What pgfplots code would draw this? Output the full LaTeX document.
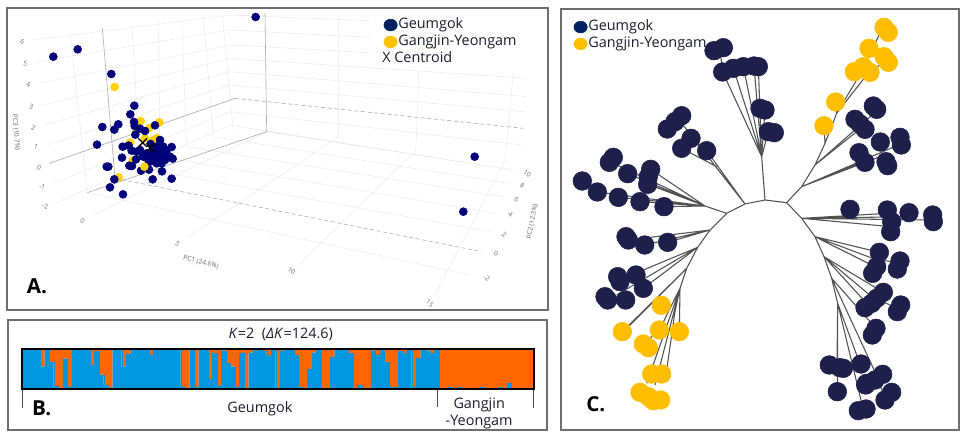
\documentclass[border=0pt]{standalone}
\usepackage{fontspec}
\setmainfont{Open Sans}
\usepackage{pgfplots}
\usepackage{pgfplotstable}
\pgfplotsset{compat=1.18}

\definecolor{framegray}{HTML}{6E6E6E}
\definecolor{gridlight}{HTML}{EAEAEA}
\definecolor{gridmid}{HTML}{ABABAB}
\definecolor{ticktext}{HTML}{6A6A6A}
\definecolor{ptnavy}{HTML}{00007A}
\definecolor{ptyellow}{HTML}{FFD200}
\definecolor{treenavy}{HTML}{1E1F4A}
\definecolor{treeyellow}{HTML}{FFBF00}
\definecolor{legnavy}{HTML}{002060}
\definecolor{legyellow}{HTML}{FFC000}
\definecolor{barblue}{HTML}{0096E0}
\definecolor{barorange}{HTML}{FF6600}
\definecolor{inktext}{HTML}{1C1C2C}

\newcommand{\legfont}{\fontsize{10.8}{12}\selectfont}

\tikzset{
  tl/.style={font=\fontsize{5}{6}\selectfont, text=ticktext, inner sep=0pt},
  pnl/.style={font=\fontsize{15.5}{16}\selectfont\bfseries, text=black, inner sep=0pt, anchor=west},
}
\pgfplotsset{
  panel/.style={
    scale only axis, y dir=reverse, clip=false, xtick=\empty, ytick=\empty,
    axis line style={framegray, line width=1.1pt},
    unbounded coords=jump,
  },
  leg/.style={
    legend style={draw=none, fill=white, font=\legfont, text=inktext, inner sep=0pt, outer sep=0pt,
      row sep=1.9pt, nodes={inner sep=0.6pt}},
    legend cell align=left,
  },
  dotn/.style={legend image code/.code={\fill[legnavy] (4.2pt,-0.03cm) ellipse (5pt and 4.4pt);}},
  doty/.style={legend image code/.code={\fill[legyellow] (4.2pt,-0.03cm) ellipse (5pt and 4.4pt);}},
  noimg/.style={legend image code/.code={}},
}

% structure bars: position, blue share, orange share
\pgfplotstableread[row sep=\\]{
k b o\\
0.5 1 0\\ 1.5 1 0\\ 2.5 .99 .01\\ 3.5 .99 .01\\ 4.5 .56 .44\\ 5.5 1 0\\ 6.5 .67 .33\\ 7.5 .08 .92\\ 8.5 .02 .98\\ 9.5 .76 .24\\
10.5 .05 .95\\ 11.5 1 0\\ 12.5 1 0\\ 13.5 .98 .02\\ 14.5 .98 .02\\ 15.5 .6 .4\\ 16.5 .94 .06\\ 17.5 .36 .64\\ 18.5 .1 .9\\ 19.5 0 1\\
20.5 .97 .03\\ 21.5 .97 .03\\ 22.5 .56 .44\\ 23.5 .87 .13\\ 24.5 .99 .01\\ 25.5 .99 .01\\ 26.5 .97 .03\\ 27.5 .99 .01\\ 28.5 .84 .16\\ 29.5 1 0\\
30.5 1 0\\ 31.5 1 0\\ 32.5 .99 .01\\ 33.5 .99 .01\\ 34.5 .98 .02\\ 35.5 .05 .95\\ 36.5 0 1\\ 37.5 .98 .02\\ 38.5 .05 .95\\ 39.5 .98 .02\\
40.5 .98 .02\\ 41.5 .25 .75\\ 42.5 .9 .1\\ 43.5 .08 .92\\ 44.5 .96 .04\\ 45.5 .65 .35\\ 46.5 .56 .44\\ 47.5 .05 .95\\ 48.5 .9 .1\\ 49.5 0 1\\
50.5 .91 .09\\ 51.5 .98 .02\\ 52.5 .98 .02\\ 53.5 .94 .06\\ 54.5 .84 .16\\ 55.5 .98 .02\\ 56.5 .03 .97\\ 57.5 .96 .04\\ 58.5 .99 .01\\ 59.5 .99 .01\\
60.5 .84 .16\\ 61.5 .05 .95\\ 62.5 .03 .97\\ 63.5 .5 .5\\ 64.5 .91 .09\\ 65.5 .97 .03\\ 66.5 .02 .98\\ 67.5 .02 .98\\ 68.5 .8 .2\\ 69.5 .98 .02\\
70.5 .98 .02\\ 71.5 .98 .02\\ 72.5 .89 .11\\ 73.5 .01 .99\\ 74.5 .1 .9\\ 75.5 .02 .98\\ 76.5 .02 .98\\ 77.5 .96 .04\\ 78.5 .84 .16\\ 79.5 .98 .02\\
80.5 .67 .33\\ 81.5 .04 .96\\ 82.5 .04 .96\\ 83.5 .94 .06\\ 84.5 .89 .11\\ 85.5 .98 .02\\ 86.5 .04 .96\\ 87.5 .78 .22\\ 88.5 .98 .02\\ 89.5 .96 .04\\
90.5 .89 .11\\ 91.5 .99 .01\\
92.5 .01 .99\\ 93.5 .01 .99\\ 94.5 .05 .95\\ 95.5 .01 .99\\ 96.5 .05 .95\\ 97.5 .01 .99\\ 98.5 .02 .98\\ 99.5 .01 .99\\ 100.5 .01 .99\\ 101.5 .04 .96\\
102.5 .01 .99\\ 103.5 .01 .99\\ 104.5 .01 .99\\ 105.5 .04 .96\\ 106.5 .01 .99\\ 107.5 .14 .86\\ 108.5 .01 .99\\ 109.5 .01 .99\\ 110.5 .01 .99\\ 111.5 .01 .99\\ 112.5 .01 .99\\
}\structuredata

\begin{document}
\begin{tikzpicture}[x=0.75pt, y=0.75pt]
\path[use as bounding box] (0,0) rectangle (965,432);

% panel A
\begin{axis}[panel, leg, at={(5.25pt,91.5pt)}, anchor=south west,
  width=405.75pt, height=226.5pt, xmin=21, xmax=1644, ymin=24, ymax=930,
  legend style={at={(axis cs:1151,50)}, anchor=north west}]
% walls and floor of the 3D box
\addplot[gridlight, line width=0.4pt, forget plot] coordinates {
 (100,120)(690,45)(1110,62) (nan,nan)
 (110,185)(690,90)(1110,112) (nan,nan)
 (120,250)(690,135)(1110,158) (nan,nan)
 (130,315)(690,175)(1585,235) (nan,nan)
 (135,375)(690,215)(1580,290) (nan,nan)
 (145,435)(690,255)(1575,335) (nan,nan)
 (160,550)(690,335)(1565,435) (nan,nan)
 (165,610)(690,375)(1540,510) (nan,nan)
 (262,578)(1410,825) (nan,nan)
 (420,505)(1470,695) (nan,nan)
 (480,470)(1490,640) (nan,nan)
 (560,440)(1510,590) (nan,nan)
 (640,410)(1525,550) (nan,nan)
 (800,395)(1540,510) (nan,nan)
 (280,645)(800,395) (nan,nan)
 (558,715)(1015,410) (nan,nan)
 (895,795)(1245,455) (nan,nan)
 (1305,885)(1515,480) (nan,nan)
 (210,95)(262,578) (nan,nan)
 (396,75)(420,505) (nan,nan)
 (475,65)(480,470) (nan,nan)
 (545,55)(560,440) (nan,nan)
 (610,50)(640,410) (nan,nan)
 (667,45)(700,395) (nan,nan)
 (1015,45)(1015,410) (nan,nan)
 (1257,215)(1247,455) (nan,nan)
 (1540,215)(1515,480)
};
\addplot[gridmid, line width=0.45pt, forget plot] coordinates {
 (307,85)(345,535) (nan,nan)
 (795,40)(800,395) (nan,nan)
 (148,490)(705,295) (nan,nan)
 (800,395)(262,578)
};
\addplot[gridmid, line width=0.45pt, densely dashed, forget plot] coordinates {
 (705,295)(1570,385) (nan,nan)
 (345,535)(1445,755)
};
% samples
\addplot[only marks, mark=*, mark size=3pt, ptyellow, mark options={draw=none}, forget plot] coordinates {
 (344,261)(422,363)(478,367)(448,384)(470,414)(435,415)(390,428)(410,393)(356,532)(398,482)(460,420)
};
\addplot[only marks, mark=*, mark size=3pt, ptnavy, mark options={draw=none}, forget plot] coordinates {
 (767,51)(233,148)(160,170)(334,222)(403,317)(391,343)(402,366)(355,373)(307,381)(343,389)
 (404,378)(420,386)(435,393)(465,376)(406,404)(291,434)(368,440)(386,437)(515,441)(366,473)
 (320,500)(325,500)(388,497)(396,498)(423,512)(447,509)(486,514)(458,538)(515,536)(343,538)
 (330,562)(369,583)(452,432)(480,420)(470,440)(490,440)(500,450)(395,452)(410,455)(420,450)
 (440,460)(460,455)(480,455)(510,470)(518,476)(408,478)(430,470)(445,480)(460,470)(475,475)
 (495,480)(470,490)(485,490)(450,485)(430,465)(500,470)(465,465)(480,470)(490,465)
 (1424,470)(1390,635)
};
\addplot[only marks, mark=*, mark size=3pt, ptyellow, mark options={draw=none}, forget plot] coordinates {
 (433,500)
};
\addplot[only marks, mark=x, mark size=4.5pt, black, line width=1pt, forget plot] coordinates {
 (428,428)(452,443)
};
\addlegendimage{dotn}\addlegendentry{Geumgok}
\addlegendimage{doty}\addlegendentry{Gangjin-Yeongam}
\addlegendimage{noimg}\addlegendentry{\hspace*{-12pt}X Centroid}
% tick labels of the 3D box
\node[tl, rotate=-15] at (axis cs:67,124) {6};
\node[tl, rotate=-15] at (axis cs:76,190) {5};
\node[tl, rotate=-15] at (axis cs:85,255) {4};
\node[tl, rotate=-15] at (axis cs:94,320) {3};
\node[tl, rotate=-15] at (axis cs:100,382) {2};
\node[tl, rotate=-15] at (axis cs:108,440) {1};
\node[tl, rotate=-15] at (axis cs:117,502) {0};
\node[tl, rotate=-15] at (axis cs:127,560) {-1};
\node[tl, rotate=-15] at (axis cs:135,618) {-2};
\node[tl, rotate=-85] at (axis cs:48,397) {PC3 (10.7\%)};
\node[tl, rotate=-40] at (axis cs:248,662) {0};
\node[tl, rotate=-40] at (axis cs:533,732) {5};
\node[tl, rotate=-40] at (axis cs:875,812) {10};
\node[tl, rotate=-40] at (axis cs:1290,910) {15};
\node[tl, rotate=-15] at (axis cs:603,787) {PC1 (24.6\%)};
\node[tl, rotate=-35] at (axis cs:1582,522) {10};
\node[tl, rotate=-35] at (axis cs:1567,558) {8};
\node[tl, rotate=-35] at (axis cs:1550,598) {6};
\node[tl, rotate=-35] at (axis cs:1532,645) {4};
\node[tl, rotate=-35] at (axis cs:1512,703) {2};
\node[tl, rotate=-35] at (axis cs:1488,762) {0};
\node[tl, rotate=-35] at (axis cs:1460,835) {-2};
\node[tl, rotate=80] at (axis cs:1597,665) {PC2 (12.3\%)};
\node[pnl] at (axis cs:80,858) {A.};
\end{axis}

% panel B frame
\draw[framegray, line width=0.9pt] (8,2) rectangle (547,112);

% panel B
\begin{axis}[at={(16.5pt,32.25pt)}, anchor=south west, scale only axis, clip=false,
  width=384pt, height=30pt, xmin=0, xmax=113, ymin=0, ymax=1,
  xtick=\empty, ytick=\empty, ybar stacked, bar width=1,
  axis line style={black, line width=0.9pt}, axis on top]
\addplot[fill=barblue, draw=barblue, line width=0.05pt] table[x=k, y=b] {\structuredata};
\addplot[fill=barorange, draw=barorange, line width=0.05pt] table[x=k, y=o] {\structuredata};
\draw[black!70, line width=0.5pt] (axis cs:0,0) -- (axis cs:0,-0.475);
\draw[black!70, line width=0.5pt] (axis cs:91.6,0) -- (axis cs:91.6,-0.45);
\draw[black!70, line width=0.5pt] (axis cs:112.9,0) -- (axis cs:112.9,-0.475);
\node[font=\legfont, text=inktext, inner sep=0pt] at (axis cs:57.1,1.37)
  {\textit{K}=2\ \ (\textit{ΔK}=124.6)};
\node[font=\legfont, text=inktext, inner sep=0pt] at (axis cs:52.5,-0.49) {Geumgok};
\node[font=\legfont, text=inktext, inner sep=0pt] at (axis cs:100.9,-0.39) {Gangjin};
\node[font=\legfont, text=inktext, inner sep=0pt] at (axis cs:100.9,-0.83) {-Yeongam};
\node[pnl] at (axis cs:2.2,-0.475) {B.};
\end{axis}

% panel C
\begin{axis}[panel, leg, at={(420.75pt,1.5pt)}, anchor=south west,
  width=298.5pt, height=315.75pt, xmin=1683, xmax=2877, ymin=27, ymax=1290,
  axis line style={framegray, line width=0.9pt},
  legend style={at={(axis cs:1721,56)}, anchor=north west, fill=none}]
% tree backbone and branches
\addplot[black!68, line width=0.8pt, forget plot] coordinates {
 (2060,805)(2093,742)(2130,690)(2180,640)(2235,612)(2295,600)(2360,608)(2405,655)(2445,710)(2472,770)(2495,835)(2513,910) (nan,nan)
 (2360,608)(2405,560)(2445,495)(2475,430)(2510,340)(2570,240)(2640,100) (nan,nan)
 (2060,805)(2040,865)(2025,935)(2000,1110) (nan,nan)
 (2180,640)(2115,618)(1992,620) (nan,nan)
 (2115,618)(1920,605) (nan,nan)
 (2115,618)(1855,592) (nan,nan)
 (2115,618)(1792,576)(1747,543) (nan,nan)
 (2115,618)(1952,508) (nan,nan)
 (2115,618)(1945,553) (nan,nan)
 (2115,618)(1883,521) (nan,nan)
 (2115,618)(1840,490) (nan,nan)
 (2235,612)(2045,370) (nan,nan)
 (2235,612)(2120,452) (nan,nan)
 (2150,500)(2045,445) (nan,nan)
 (2295,600)(2285,470)(2168,216)(2160,150) (nan,nan)
 (2285,470)(2200,205) (nan,nan)
 (2285,470)(2230,200) (nan,nan)
 (2285,470)(2262,198) (nan,nan)
 (2285,470)(2275,200) (nan,nan)
 (2285,470)(2295,330) (nan,nan)
 (2285,470)(2305,395) (nan,nan)
 (2445,495)(2570,395) (nan,nan)
 (2445,495)(2610,350) (nan,nan)
 (2405,560)(2600,480) (nan,nan)
 (2405,560)(2640,470) (nan,nan)
 (2405,560)(2695,435) (nan,nan)
 (2475,430)(2472,377) (nan,nan)
 (2510,340)(2507,306) (nan,nan)
 (2510,340)(2600,225)(2660,180) (nan,nan)
 (2405,655)(2550,648) (nan,nan)
 (2405,655)(2798,660) (nan,nan)
 (2405,655)(2672,680) (nan,nan)
 (2405,655)(2662,640) (nan,nan)
 (2405,655)(2727,650) (nan,nan)
 (2445,710)(2638,757) (nan,nan)
 (2445,710)(2618,775)(2700,790) (nan,nan)
 (2445,710)(2625,800) (nan,nan)
 (2472,770)(2650,877) (nan,nan)
 (2472,770)(2615,890)(2692,925) (nan,nan)
 (2495,835)(2628,985) (nan,nan)
 (2472,770)(2600,910) (nan,nan)
 (2513,910)(2511,1100) (nan,nan)
 (2513,910)(2513,1175) (nan,nan)
 (2513,910)(2583,1100) (nan,nan)
 (2513,910)(2590,1230) (nan,nan)
 (2495,835)(2620,1105)(2650,1180) (nan,nan)
 (2130,690)(1885,720) (nan,nan)
 (2130,690)(1934,735) (nan,nan)
 (2130,690)(2003,727) (nan,nan)
 (2093,742)(1930,810) (nan,nan)
 (2093,742)(1850,885) (nan,nan)
 (2093,742)(1930,865) (nan,nan)
 (2060,805)(1867,995) (nan,nan)
 (2060,805)(1880,985) (nan,nan)
 (2040,865)(1978,990)(1930,1032) (nan,nan)
 (2040,865)(2038,995) (nan,nan)
 (2040,865)(1965,1155) (nan,nan)
 (2040,865)(1940,1150)
};
% leaves
\addplot[only marks, mark=*, mark size=7pt, treenavy, mark options={draw=none}, forget plot] coordinates {
 (1747,543)(1792,576)(1855,592)(1920,605)(1992,620)(1883,521)(1840,472)(1828,487)
 (1952,508)(1945,530)(1943,553)
 (2045,347)(2025,365)(2002,387)(2073,415)(2045,445)(2120,452)
 (2142,152)(2170,143)(2168,216)(2200,205)(2230,200)(2262,198)(2275,200)
 (2280,325)(2295,330)(2305,395)(2323,398)
 (2620,318)(2630,328)(2565,358)(2580,372)(2595,388)(2641,426)(2700,412)(2704,435)
 (2577,458)(2595,487)(2658,485)(2663,497)
 (2550,628)(2662,630)(2675,665)(2672,695)(2727,638)(2798,645)(2800,665)
 (2638,757)(2630,800)(2618,820)(2700,783)(2692,807)
 (2650,877)(2630,895)(2615,910)(2595,923)(2702,915)(2692,935)(2628,985)(2617,1005)
 (2488,1095)(2520,1103)(2530,1105)(2512,1175)(2583,1092)(2648,1123)(2625,1140)(2600,1150)(2597,1155)
 (2675,1177)(2655,1200)(2598,1227)(2575,1232)
 (1878,710)(1885,720)(1934,735)(2003,727)
 (1853,830)(1860,845)(1908,825)(1930,865)(1815,890)(1823,900)(1877,900)
};
\addplot[only marks, mark=*, mark size=7pt, treeyellow, mark options={draw=none}, forget plot] coordinates {
 (2652,82)(2665,97)(2607,145)(2652,170)(2665,187)(2563,215)(2590,200)(2610,217)(2507,306)(2472,377)
 (1984,916)(1867,995)(1978,990)(2038,995)(1930,1032)(1945,1043)(1955,1122)(1985,1122)
 (1920,1177)(1945,1190)(1960,1202)(1982,1200)
};
\addlegendimage{dotn}\addlegendentry{Geumgok}
\addlegendimage{doty}\addlegendentry{Gangjin-Yeongam}
\node[pnl] at (axis cs:1758,1212) {C.};
\end{axis}
\end{tikzpicture}
\end{document}
